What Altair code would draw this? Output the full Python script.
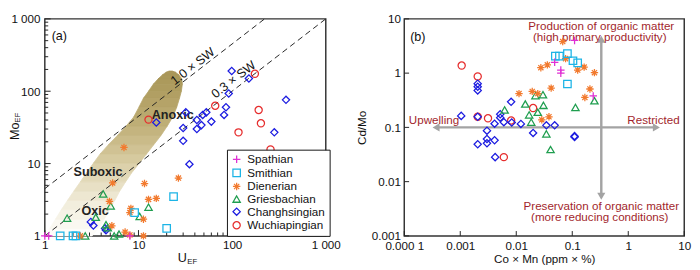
import altair as alt
import pandas as pd

FONT = "Liberation Sans"
W_A, W_B, H = 290, 289, 224

groups = ["Spathian", "Smithian", "Dienerian", "Griesbachian", "Changhsingian", "Wuchiapingian"]
colors = ["#e02fd4", "#1cb4e6", "#f27a2e", "#1f9e4f", "#1c1ce0", "#e62e2e"]
PLUS = "M-1,0L1,0M0,-1L0,1"
STAR = "M0,-1L0,1M-1,0L1,0M-0.7,-0.7L0.7,0.7M-0.7,0.7L0.7,-0.7"
shapes = [PLUS, "square", STAR, "triangle-up", "diamond", "circle"]
sizes = [60, 55, 50, 50, 40, 55]

# ---------------- panel (a): U_EF vs Mo_EF ----------------
a_spath_u = [1.0, 1.1, 8.1]
a_spath_mo = [1.0, 1.0, 1.0]
a_smith_u = [1.46, 2.0, 2.15, 9.1, 20.0, 23.7]
a_smith_mo = [1.0, 1.0, 1.0, 2.1, 1.27, 3.5]
a_dien_u = [7.0, 5.3, 4.9, 11.6, 12.8, 15.5, 8.3, 8.1, 11.3, 5.2, 7.2, 8.1, 11.3, 2.4, 26.7]
a_dien_mo = [16.7, 5.4, 3.0, 5.3, 3.2, 3.3, 2.4, 2.1, 1.7, 1.38, 1.13, 1.03, 1.0, 1.0, 6.3]
a_gries_u = [1.73, 3.5, 4.2, 5.05, 4.5, 4.7, 5.5, 6.2, 10.3, 12.8, 2.7]
a_gries_mo = [1.76, 1.81, 3.8, 2.6, 1.43, 1.3, 1.0, 1.06, 1.86, 2.5, 1.0]
a_chang_u = [99, 151, 92, 376, 86, 82, 53, 48.5, 32, 42, 60, 30, 47, 42, 282, 30, 15.5, 35, 3.1, 3.3, 4.4, 4.5]
a_chang_mo = [190, 150, 93, 76, 60, 47, 51, 47, 51, 40, 38, 31, 34, 30, 27, 20.6, 37, 9.8, 1.56, 1.39, 1.27, 1.2]
a_wuchi_u = [12.8, 66, 175, 192, 203, 117, 257]
a_wuchi_mo = [40.5, 63, 174, 55, 36, 27, 15.7]

# shaded redox field (edges along Mo_EF) and its shading from bottom to top
band_mo = [1.0, 1.27, 1.7, 2.3, 3.1, 4.15, 5.6, 7.5, 10.1, 13.6, 18.3, 24.5, 33, 44, 60, 80, 100, 125, 148, 168, 182, 190]
band_u_left = [1.0, 1.13, 1.3, 1.5, 1.75, 2.04, 2.4, 2.8, 3.3, 3.9, 4.8, 5.97, 7.4, 8.9, 10.1, 11.3, 12.8, 14.4, 16.2, 18.0, 19.6, 21.2]
band_u_right = [3.2, 3.7, 4.3, 4.9, 5.6, 6.3, 7.3, 8.5, 10.2, 12.2, 14.6, 17.4, 20.3, 23.2, 25.6, 27.4, 28.7, 29.4, 29.0, 27.0, 25.0, 23.0]
band_shade = ["#fdfcf9", "#faf8f1", "#f6f3e7", "#f2eedd", "#ede7d1", "#e8e0c5", "#e2d9b8", "#dcd1ab",
              "#d6ca9f", "#d0c294", "#cabb89", "#c4b47f", "#beae76", "#b9a86e", "#b5a368", "#b19f63",
              "#ae9c5f", "#ac9a5c", "#aa985a", "#a99659", "#a89558"]

# seawater Mo/U reference lines (Mo_EF = ratio * U_EF)
sw_names = ["1.0 × SW", "0.3 × SW"]
sw_ratio = [4.5, 1.0]
sw_label_u = [38, 104]
sw_label_mo = [220, 145]

zone_names = ["Anoxic", "Suboxic", "Oxic"]
zone_u = [23.2, 3.7, 3.45]
zone_mo = [47, 7.5, 2.2]

# ---------------- panel (b): Co×Mn vs Cd/Mo ----------------
b_spath_x = [0.11, 0.0485, 0.0625, 0.0625, 0.237]
b_spath_y = [4.0, 1.58, 1.14, 1.0, 0.38]
b_smith_x = [0.0499, 0.059, 0.082, 0.103, 0.125, 0.082]
b_smith_y = [2.06, 2.06, 2.28, 1.69, 1.54, 0.63]
b_dien_x = [0.0676, 0.076, 0.0359, 0.0275, 0.125, 0.163, 0.249, 0.207, 0.168, 0.042, 0.0193, 0.0242, 0.0112, 0.0384, 0.0286]
b_dien_y = [3.82, 1.85, 1.42, 1.26, 1.14, 1.29, 1.02, 0.51, 0.356, 0.53, 0.46, 0.42, 0.42, 0.157, 0.138]
b_gries_x = [0.0062, 0.0145, 0.017, 0.0185, 0.022, 0.030, 0.0306, 0.0242, 0.249, 0.114, 0.0345, 0.041]
b_gries_y = [0.21, 0.27, 0.17, 0.125, 0.385, 0.40, 0.255, 0.19, 0.31, 0.233, 0.076, 0.039]
b_chang_x = [0.00104, 0.00205, 0.00205, 0.00205, 0.00205, 0.0041, 0.00517, 0.00517, 0.006, 0.0083, 0.0081,
             0.0121, 0.02, 0.00205, 0.0030, 0.0030, 0.0041, 0.0030, 0.0042, 0.0345, 0.0485, 0.11, 0.11]
b_chang_y = [0.163, 0.64, 0.56, 0.48, 0.157, 0.117, 0.175, 0.151, 0.125, 0.123, 0.296,
             0.116, 0.079, 0.049, 0.061, 0.051, 0.058, 0.087, 0.0283, 0.109, 0.109, 0.0665, 0.069]
b_wuchi_x = [0.00106, 0.00205, 0.00205, 0.00313, 0.0081, 0.02, 0.006]
b_wuchi_y = [1.38, 0.87, 0.157, 0.147, 0.134, 0.227, 0.0283]

# interpretive arrows
arrow_x1 = [0.00037, 0.33]
arrow_x2 = [3.18, 0.33]
arrow_y1 = [0.1, 4.2]
arrow_y2 = [0.1, 0.0054]
head_x = [0.00037, 3.18, 0.33, 0.33]
head_y = [0.1, 0.1, 4.2, 0.0054]
head_shape = ["triangle-left", "triangle-right", "triangle-up", "triangle-down"]

b_notes = ["Upwelling", "Restricted", "Production of organic matter", "(high primary productivity)",
           "Preservation of organic matter", "(more reducing conditions)"]
b_note_x = [0.00034, 2.82, 0.33, 0.31, 0.33, 0.31]
b_note_y = [0.134, 0.139, 7.5, 4.58, 0.00358, 0.00218]

a_major = [1, 10, 100, 1000]
a_minor = [m * d for d in [1, 10, 100] for m in range(2, 10)]
b_x_major = [0.0001, 0.001, 0.01, 0.1, 1, 10]
b_y_major = [0.001, 0.01, 0.1, 1, 10]


def long_df(pairs):
    rows = []
    for g, xs, ys in pairs:
        for x, y in zip(xs, ys):
            rows.append({"x": x, "y": y, "g": g})
    return pd.DataFrame(rows)


df_a = long_df([
    ("Wuchiapingian", a_wuchi_u, a_wuchi_mo), ("Changhsingian", a_chang_u, a_chang_mo),
    ("Griesbachian", a_gries_u, a_gries_mo), ("Dienerian", a_dien_u, a_dien_mo),
    ("Smithian", a_smith_u, a_smith_mo), ("Spathian", a_spath_u, a_spath_mo)])
df_b = long_df([
    ("Wuchiapingian", b_wuchi_x, b_wuchi_y), ("Changhsingian", b_chang_x, b_chang_y),
    ("Griesbachian", b_gries_x, b_gries_y), ("Dienerian", b_dien_x, b_dien_y),
    ("Smithian", b_smith_x, b_smith_y), ("Spathian", b_spath_x, b_spath_y)])

lab = dict(labelFont=FONT, labelFontSize=12, labelColor="#111", labelFlush=False,
           labelOverlap=False, ticks=False, domain=False, grid=False)

sax = alt.Scale(type="log", domain=[1, 1000], nice=False)
say = alt.Scale(type="log", domain=[1, 1000], nice=False)
a_expr = "datum.value >= 1000 ? '1 000' : datum.value >= 100 ? '100' : datum.value >= 10 ? '10' : '1'"
axa_x = alt.Axis(values=a_major, labelExpr=a_expr, title=None, labelPadding=4, **lab)
axa_y = alt.Axis(values=a_major, labelExpr=a_expr, title=None, labelPadding=5, **lab)

sbx = alt.Scale(type="log", domain=[0.0001, 10], nice=False)
sby = alt.Scale(type="log", domain=[0.001, 10], nice=False)
bx_expr = ("datum.value < 0.0005 ? '0.000 1' : datum.value < 0.005 ? '0.001' : datum.value < 0.05 ? '0.01' : "
           "datum.value < 0.5 ? '0.1' : datum.value < 5 ? '1' : '10'")
by_expr = ("datum.value < 0.005 ? '0.001' : datum.value < 0.05 ? '0.01' : "
           "datum.value < 0.5 ? '0.1' : datum.value < 5 ? '1' : '10'")
axb_x = alt.Axis(values=b_x_major, labelExpr=bx_expr, title="Co × Mn (ppm × %)", labelPadding=5,
                 titleFont=FONT, titleFontSize=12, titleFontWeight="normal", titleColor="#111", titlePadding=2, **lab)
axb_y = alt.Axis(values=b_y_major, labelExpr=by_expr, title="Cd/Mo", labelPadding=4,
                 titleFont=FONT, titleFontSize=12, titleFontWeight="normal", titleColor="#111", titlePadding=3, **lab)

cscale = alt.Scale(domain=groups, range=colors)
shscale = alt.Scale(domain=groups, range=shapes)
szscale = alt.Scale(domain=groups, range=sizes)

XA = lambda f: alt.X(f, scale=sax, axis=axa_x)
YA = lambda f: alt.Y(f, scale=say, axis=axa_y)
XB = lambda f: alt.X(f, scale=sbx, axis=axb_x)
YB = lambda f: alt.Y(f, scale=sby, axis=axb_y)

# ---- panel (a) layers ----
band_rows = []
for i, c in enumerate(band_shade):
    for j in (i, i + 1):
        band_rows.append({"seg": i, "c": c, "mo": band_mo[j], "ul": band_u_left[j], "ur": band_u_right[j]})
band = alt.Chart(pd.DataFrame(band_rows)).mark_area(
    orient="horizontal", interpolate="linear", opacity=1, strokeWidth=0.8).encode(
    y=YA("mo:Q"), x=XA("ul:Q"), x2="ur:Q", detail="seg:N",
    fill=alt.Fill("c:N", scale=None), stroke=alt.Stroke("c:N", scale=None))

line_rows = []
for n, k in zip(sw_names, sw_ratio):
    line_rows.append({"n": n, "u": 1.0, "mo": k})
    line_rows.append({"n": n, "u": 1000.0 / k, "mo": 1000.0})
sw_lines = alt.Chart(pd.DataFrame(line_rows)).mark_line(
    color="#222", strokeWidth=1, strokeDash=[6, 4]).encode(x=XA("u:Q"), y=YA("mo:Q"), detail="n:N")

sw_text = alt.Chart(pd.DataFrame({"t": sw_names, "u": sw_label_u, "mo": sw_label_mo})).mark_text(
    angle=322, font=FONT, fontSize=13, color="#111").encode(x=XA("u:Q"), y=YA("mo:Q"), text="t:N")

zone_text = alt.Chart(pd.DataFrame({"t": zone_names, "u": zone_u, "mo": zone_mo})).mark_text(
    font=FONT, fontSize=13, fontWeight="bold", color="#222").encode(x=XA("u:Q"), y=YA("mo:Q"), text="t:N")

legend_a = alt.Legend(orient="none", legendX=188, legendY=135, title=None, labelFont=FONT, labelFontSize=12,
                      labelColor="#111", strokeColor="#111", fillColor="white", padding=4, rowPadding=0,
                      symbolSize=45, symbolStrokeWidth=1.3, labelOffset=5, cornerRadius=0)
pts_a = alt.Chart(df_a).mark_point(filled=False, strokeWidth=1.3, opacity=1).encode(
    x=XA("x:Q"), y=YA("y:Q"),
    color=alt.Color("g:N", scale=cscale, legend=legend_a),
    shape=alt.Shape("g:N", scale=shscale, legend=legend_a),
    size=alt.Size("g:N", scale=szscale, legend=None))


def ticks_x(vals, length, xenc, h):
    return alt.Chart(pd.DataFrame({"v": vals})).mark_rule(color="#222", strokeWidth=1).encode(
        x=xenc("v:Q"), y=alt.value(h), y2=alt.value(h - length))


def ticks_y(vals, length, yenc):
    return alt.Chart(pd.DataFrame({"v": vals})).mark_rule(color="#222", strokeWidth=1).encode(
        y=yenc("v:Q"), x=alt.value(0), x2=alt.value(length))


def label(t, x, y, size=13, angle=0, align="center", color="#111", weight="normal"):
    return alt.Chart(pd.DataFrame({"t": [t]})).mark_text(
        font=FONT, fontSize=size, angle=angle, align=align, baseline="middle", color=color,
        fontWeight=weight).encode(text="t:N", x=alt.value(x), y=alt.value(y))


panel_a = alt.layer(
    band, sw_lines, sw_text, zone_text,
    ticks_x(a_major, 6, XA, H), ticks_x(a_minor, 3.5, XA, H),
    ticks_y(a_major, 6, YA), ticks_y(a_minor, 3.5, YA),
    pts_a,
    label("(a)", 15, 18),
    label("Mo", -31, H / 2 + 4, size=13, angle=270),
    label("EF", -28, H / 2 - 10, size=8, angle=270),
    label("U", W_A / 2 - 3, H + 23, size=13),
    label("EF", W_A / 2 + 2, H + 27, size=8, align="left"),
).properties(width=W_A, height=H)

# ---- panel (b) layers ----
arrows = alt.Chart(pd.DataFrame({"x1": arrow_x1, "x2": arrow_x2, "y1": arrow_y1, "y2": arrow_y2})).mark_rule(
    color="#a3a3a3", strokeWidth=2.5).encode(x=XB("x1:Q"), x2="x2:Q", y=YB("y1:Q"), y2="y2:Q")
heads = alt.Chart(pd.DataFrame({"x": head_x, "y": head_y, "s": head_shape})).mark_point(
    filled=True, color="#a3a3a3", size=70, opacity=1).encode(
    x=XB("x:Q"), y=YB("y:Q"), shape=alt.Shape("s:N", scale=None, legend=None))
notes = alt.Chart(pd.DataFrame({"t": b_notes, "x": b_note_x, "y": b_note_y})).mark_text(
    font=FONT, fontSize=12, color="#a21f2c").encode(x=XB("x:Q"), y=YB("y:Q"), text="t:N")
pts_b = alt.Chart(df_b).mark_point(filled=False, strokeWidth=1.3, opacity=1).encode(
    x=XB("x:Q"), y=YB("y:Q"),
    color=alt.Color("g:N", scale=cscale, legend=None),
    shape=alt.Shape("g:N", scale=shscale, legend=None),
    size=alt.Size("g:N", scale=szscale, legend=None))

panel_b = alt.layer(
    arrows, heads, notes,
    ticks_x(b_x_major, 5, XB, H), ticks_y(b_y_major, 5, YB),
    pts_b,
    label("(b)", 14, 19),
).properties(width=W_B, height=H)

chart = alt.hconcat(panel_a, panel_b, spacing=14).resolve_scale(
    color="independent", shape="independent", size="independent"
).configure_view(stroke="#333", strokeWidth=1.5).properties(padding=0)

chart.save("out.html", embed_options={"renderer": "svg", "actions": False})
